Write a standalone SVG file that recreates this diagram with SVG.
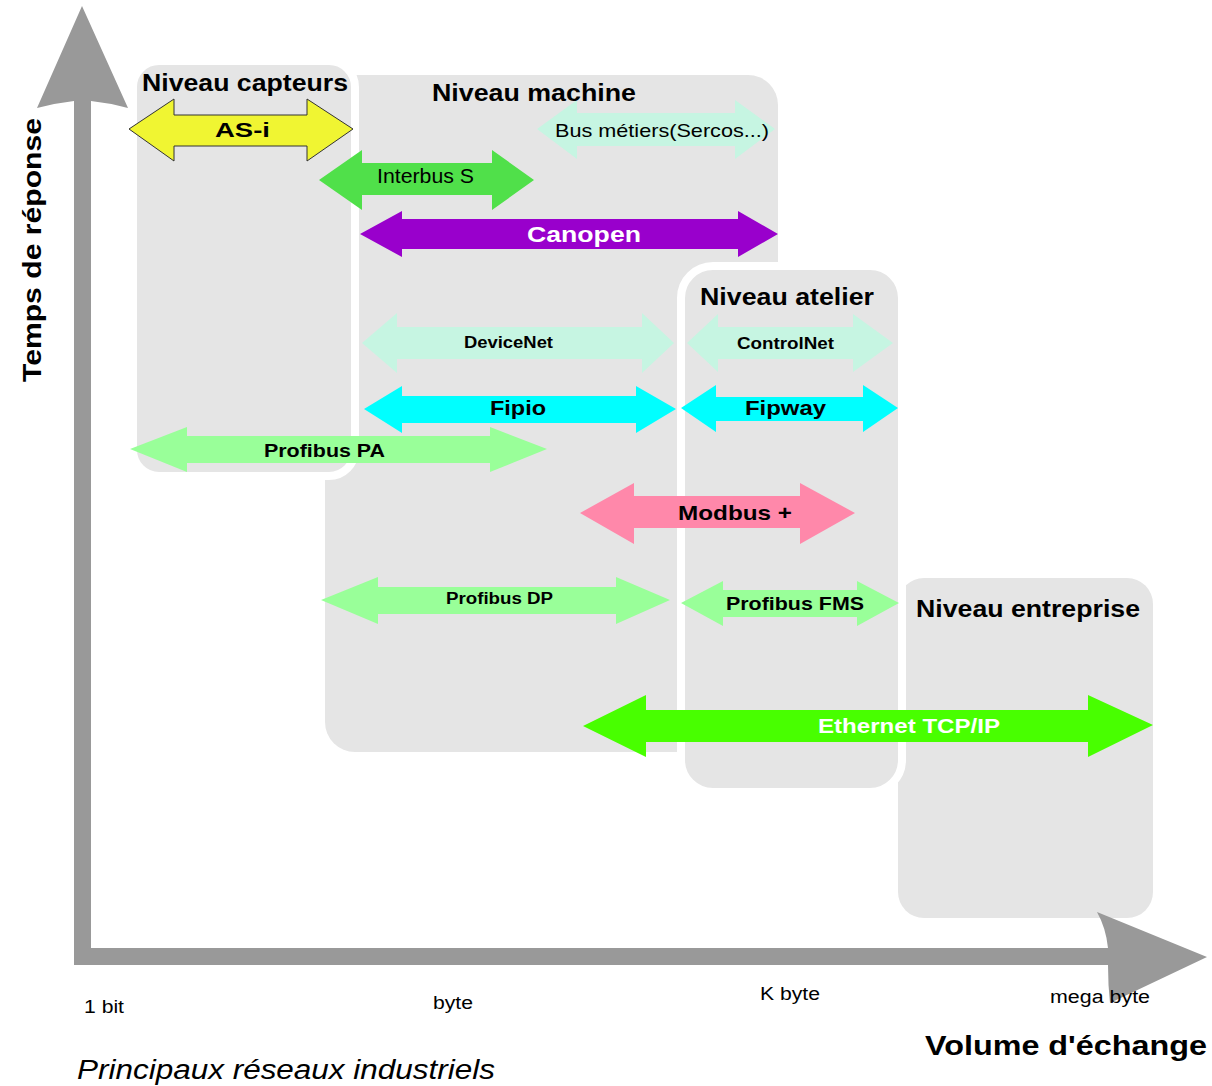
<svg xmlns="http://www.w3.org/2000/svg" width="1212" height="1086" viewBox="0 0 1212 1086">
<style>
.box{fill:#e5e5e5}
.wbox{fill:#e5e5e5;stroke:#ffffff;stroke-width:8}
.t{font-family:"Liberation Sans",Arial,sans-serif;fill:#000}
.b{font-weight:bold}
.w{fill:#fff}
.mint{fill:#c6f5e2}
.lg{fill:#99ff99}
.cy{fill:#00ffff}
</style>
<rect width="1212" height="1086" fill="#fff"/>
<g id="levels">
  <g id="niveau-machine"><rect class="box" x="325" y="75" width="453" height="677" rx="30"/></g>
  <g id="niveau-entreprise"><rect class="box" x="898" y="578" width="255" height="340" rx="26"/></g>
  <g id="niveau-capteurs"><rect class="wbox" x="133" y="61" width="222" height="415" rx="26"/></g>
  <g id="niveau-atelier"><rect class="wbox" x="681" y="266" width="221" height="526" rx="32"/></g>
</g>
<g id="axes">
  <path fill="#999999" d="M74,965 L74,101 Q56,103 37,108 L82,6 L128,108 Q110,103 91,101 L91,948 L1108,948 Q1106,928 1097,912 L1207,957 L1110,1003 Q1108,985 1108,965 Z"/>
</g>
<g id="connectors">
  <g id="asi"><path fill="#f0f532" stroke="#333" stroke-width="1" d="M129,129 L174,99 L174,115 L307,115 L307,99 L353,129 L307,161 L307,146 L174,146 L174,161 Z"/></g>
  <g id="interbus"><path fill="#50e04a" d="M319,180 L362,150 L362,163 L492,163 L492,150 L534,180 L492,210 L492,195 L362,195 L362,210 Z"/></g>
  <g id="canopen"><path fill="#9900cc" d="M360,234 L402,211 L402,219 L738,219 L738,211 L778,234 L738,257 L738,249 L402,249 L402,257 Z"/></g>
  <g id="busmetiers"><path class="mint" d="M537,129 L577,100 L577,113 L735,113 L735,100 L775,129 L735,159 L735,146 L577,146 L577,159 Z"/></g>
  <g id="devicenet"><path class="mint" d="M362,343 L397,313 L397,327 L642,327 L642,313 L674,343 L642,373 L642,359 L397,359 L397,373 Z"/></g>
  <g id="fipio"><path class="cy" d="M364,409 L402,386 L402,396 L636,396 L636,386 L676,409 L636,433 L636,423 L402,423 L402,433 Z"/></g>
  <g id="profibuspa"><path class="lg" d="M130,449 L187,427 L187,436 L490,436 L490,427 L547,449 L490,472 L490,463 L187,463 L187,472 Z"/></g>
  <g id="controlnet"><path class="mint" d="M687,343 L718,314 L718,327 L853,327 L853,314 L893,343 L853,372 L853,359 L718,359 L718,372 Z"/></g>
  <g id="fipway"><path class="cy" d="M681,408 L716,385 L716,397 L863,397 L863,385 L898,408 L863,432 L863,421 L716,421 L716,432 Z"/></g>
  <g id="modbus"><path fill="#ff88aa" d="M580,513 L634,483 L634,496 L800,496 L800,483 L855,513 L800,544 L800,528 L634,528 L634,544 Z"/></g>
  <g id="profibusdp"><path class="lg" d="M321,600 L378,577 L378,587 L616,587 L616,577 L670,600 L616,624 L616,614 L378,614 L378,624 Z"/></g>
  <g id="profibusfms"><path class="lg" d="M681,603 L723,581 L723,590 L857,590 L857,581 L899,603 L857,626 L857,617 L723,617 L723,626 Z"/></g>
  <g id="ethernet"><path fill="#48ff00" d="M583,726 L646,695 L646,710 L1088,710 L1088,695 L1153,725 L1088,757 L1088,742 L646,742 L646,757 Z"/></g>
</g>
<g id="labels">
  <text class="t b" x="142" y="91" font-size="23" textLength="206" lengthAdjust="spacingAndGlyphs">Niveau capteurs</text>
  <text class="t b" x="432" y="101" font-size="23" textLength="204" lengthAdjust="spacingAndGlyphs">Niveau machine</text>
  <text class="t b" x="700" y="305" font-size="23" textLength="174" lengthAdjust="spacingAndGlyphs">Niveau atelier</text>
  <text class="t b" x="916" y="617" font-size="23" textLength="224" lengthAdjust="spacingAndGlyphs">Niveau entreprise</text>
  <text class="t b" x="215" y="137" font-size="21" textLength="55" lengthAdjust="spacingAndGlyphs">AS-i</text>
  <text class="t" x="377" y="183" font-size="20" textLength="97" lengthAdjust="spacingAndGlyphs">Interbus S</text>
  <text class="t" x="555" y="137" font-size="19" textLength="214" lengthAdjust="spacingAndGlyphs">Bus métiers(Sercos...)</text>
  <text class="t b w" x="527" y="242" font-size="22" textLength="114" lengthAdjust="spacingAndGlyphs">Canopen</text>
  <text class="t b" x="464" y="348" font-size="16" textLength="89" lengthAdjust="spacingAndGlyphs">DeviceNet</text>
  <text class="t b" x="490" y="415" font-size="21" textLength="56" lengthAdjust="spacingAndGlyphs">Fipio</text>
  <text class="t b" x="264" y="457" font-size="18" textLength="121" lengthAdjust="spacingAndGlyphs">Profibus PA</text>
  <text class="t b" x="737" y="349" font-size="16" textLength="97" lengthAdjust="spacingAndGlyphs">ControlNet</text>
  <text class="t b" x="745" y="415" font-size="21" textLength="81" lengthAdjust="spacingAndGlyphs">Fipway</text>
  <text class="t b" x="678" y="520" font-size="21" textLength="114" lengthAdjust="spacingAndGlyphs">Modbus +</text>
  <text class="t b" x="446" y="604" font-size="16" textLength="107" lengthAdjust="spacingAndGlyphs">Profibus DP</text>
  <text class="t b" x="726" y="610" font-size="18" textLength="138" lengthAdjust="spacingAndGlyphs">Profibus FMS</text>
  <text class="t b w" x="818" y="733" font-size="20" textLength="182" lengthAdjust="spacingAndGlyphs">Ethernet TCP/IP</text>
  <text class="t" x="84" y="1013" font-size="18" textLength="40" lengthAdjust="spacingAndGlyphs">1 bit</text>
  <text class="t" x="433" y="1009" font-size="18" textLength="40" lengthAdjust="spacingAndGlyphs">byte</text>
  <text class="t" x="760" y="1000" font-size="18" textLength="60" lengthAdjust="spacingAndGlyphs">K byte</text>
  <text class="t" x="1050" y="1003" font-size="18" textLength="100" lengthAdjust="spacingAndGlyphs">mega byte</text>
  <text class="t b" x="925" y="1055" font-size="28" textLength="282" lengthAdjust="spacingAndGlyphs">Volume d'échange</text>
  <text class="t" x="77" y="1079" font-size="27" font-style="italic" textLength="418" lengthAdjust="spacingAndGlyphs">Principaux réseaux industriels</text>
  <text class="t b" transform="translate(41,382) rotate(-90)" x="0" y="0" font-size="26" textLength="264" lengthAdjust="spacingAndGlyphs">Temps de réponse</text>
</g>
</svg>
